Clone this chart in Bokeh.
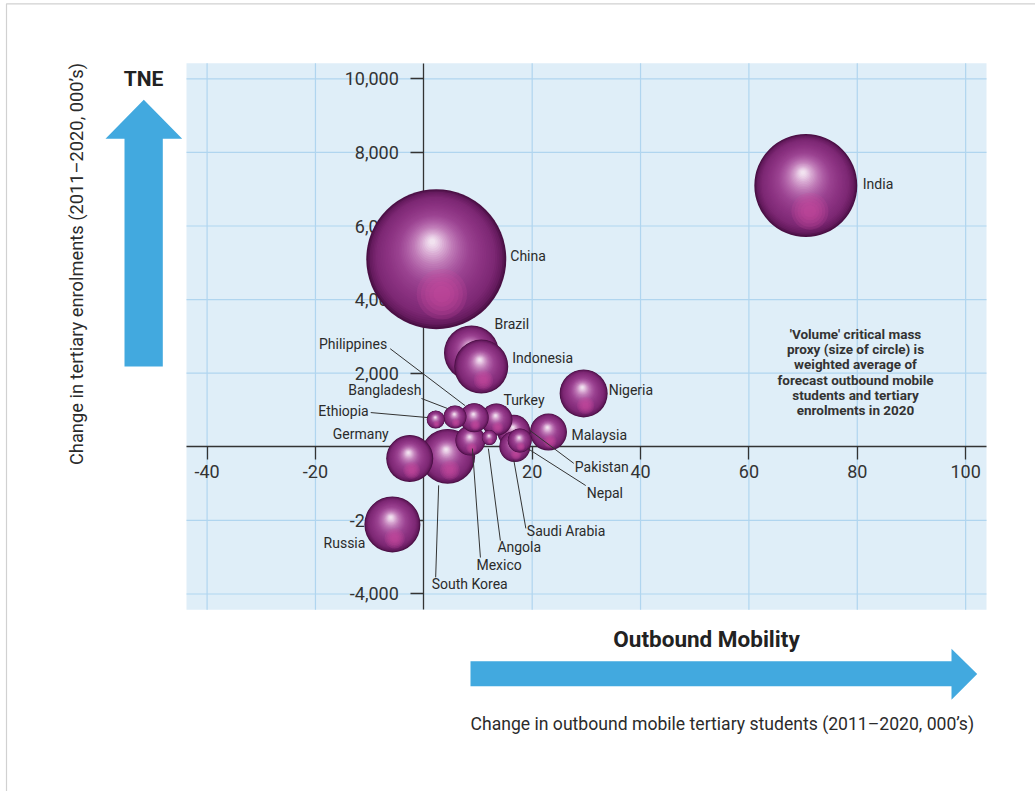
import numpy as np
from bokeh.plotting import figure
from bokeh.models import (ColumnDataSource, FixedTicker, NumeralTickFormatter,
                          Label, PolyAnnotation, Range1d)
from bokeh.core.properties import value
from bokeh.embed import file_html
from bokeh.resources import INLINE

# ---------------- data ----------------
countries = ["China", "India", "Russia", "South Korea", "Brazil", "Indonesia",
             "Nigeria", "Germany", "Malaysia", "Pakistan", "Turkey", "Saudi Arabia",
             "Mexico", "Philippines", "Nepal", "Bangladesh", "Ethiopia", "Angola"]
# change in outbound mobile tertiary students (2011-2020, 000's)
mobility = [2.3, 70.5, -5.8, 4.4, 8.8, 10.6,
            29.5, -2.6, 23.0, 16.6, 13.4, 16.8,
            8.6, 9.3, 17.7, 5.75, 2.2, 12.1]
# change in tertiary enrolments (2011-2020, 000's)
tne = [5100, 7100, -2110, -260, 2550, 2180,
       1450, -320, 400, 420, 740, 10,
       170, 790, 170, 810, 740, 250]
# 'volume' critical mass proxy (size of circle)
volume = [4900, 2650, 784, 756, 756, 729,
          576, 552, 342, 272, 256, 240,
          225, 210, 144, 132, 81, 56]

x_ticks = [-40, -20, 20, 40, 60, 80, 100]
y_ticks = [-4000, -2000, 2000, 4000, 6000, 8000, 10000]

note_lines = ["'Volume' critical mass", "proxy (size of circle) is",
              "weighted average of", "forecast outbound mobile",
              "students and tertiary", "enrolments in 2020"]

# ---------------- layout (label placement, pixels) ----------------
label_pos = {  # dx, dy (screen px from bubble centre), align
    "China": (74, -3, "left"), "India": (57, -2, "left"),
    "Brazil": (23, -29, "left"), "Indonesia": (31, -9, "left"),
    "Nigeria": (25, -3, "left"), "Turkey": (7, -20, "left"),
    "Malaysia": (23, 2.5, "left"), "Pakistan": (61, 36, "left"),
    "Nepal": (67, 52, "left"), "Saudi Arabia": (12, 85, "left"),
    "Angola": (8, 109, "left"), "Mexico": (6, 124, "left"),
    "South Korea": (-16, 128, "left"),
    "Philippines": (-87, -74, "right"), "Bangladesh": (-33.5, -26.5, "right"),
    "Ethiopia": (-67, -9, "right"), "Germany": (-21, -25, "right"),
    "Russia": (-27, 19, "right"),
}
leaders = {  # (x0, y0, x1, y1) screen px offsets from bubble centre
    "Philippines": (-84, -69, -9, -12), "Bangladesh": (-33.5, -18.5, -7.5, -8.5),
    "Ethiopia": (-65, -7, -8, -2), "South Korea": (-12, 121, -9, 29),
    "Mexico": (10, 117, 2, 8), "Angola": (11, 103, -1, 11),
    "Saudi Arabia": (11, 82, -1, 14), "Nepal": (66, 45, 8, 8),
    "Pakistan": (60, 32, 16, -1),
}

# plot area in data units and its place on the canvas (pixels)
X0, X1 = -43.8, 103.85
Y0, Y1 = -4430, 10425
W, H = 1035, 791
AL, AT, AW, AH = 186.0, 62.7, 800.0, 546.6
PX_X = AW / (X1 - X0)
PX_Y = AH / (Y1 - Y0)
XC0 = X0 - AL / PX_X
XC1 = X0 + (W - AL) / PX_X
YC1 = Y1 + AT / PX_Y
YC0 = Y1 - (H - AT) / PX_Y

FONT = "Roboto"
TXT = "#2b2b2b"
BLUE = "#42a9df"

p = figure(width=W, height=H, x_range=Range1d(XC0, XC1), y_range=Range1d(YC0, YC1),
           output_backend="svg", toolbar_location=None, title=None, min_border=0)
p.background_fill_color = "white"
p.border_fill_color = "white"
p.outline_line_color = None
p.grid.visible = False

# plot area and grid
bg = p.quad(left=[X0], right=[X1], bottom=[Y0], top=[Y1], fill_color="#dfeef8",
            line_color=None)
bg.level = "image"
gv = p.segment(x0=x_ticks, x1=x_ticks, y0=[Y0] * len(x_ticks), y1=[Y1] * len(x_ticks),
               line_color="#b0d5ef", line_width=1.2)
gh = p.segment(x0=[X0] * len(y_ticks), x1=[X1] * len(y_ticks), y0=y_ticks, y1=y_ticks,
               line_color="#b0d5ef", line_width=1.2)
gv.level = "image"
gh.level = "image"

# axes through the origin
for ax in (p.xaxis[0], p.yaxis[0]):
    ax.fixed_location = 0
    ax.axis_line_color = "#333333"
    ax.axis_line_width = 1.3
    ax.major_tick_line_color = "#333333"
    ax.major_tick_line_width = 1.3
    ax.major_tick_in = 0
    ax.major_tick_out = 13
    ax.minor_tick_line_color = None
    ax.major_label_text_font = FONT
    ax.major_label_text_font_size = "18px"
    ax.major_label_text_color = "#333333"
    ax.level = "underlay"
p.xaxis[0].ticker = FixedTicker(ticks=x_ticks)
p.yaxis[0].ticker = FixedTicker(ticks=y_ticks)
p.xaxis[0].bounds = (X0, X1)
p.yaxis[0].bounds = (Y0, Y1)
p.xaxis[0].major_label_standoff = 5
p.yaxis[0].major_label_standoff = 12
p.xaxis[0].formatter = NumeralTickFormatter(format="0")
p.yaxis[0].formatter = NumeralTickFormatter(format="0,0")

# ---------------- bubbles (shaded spheres) ----------------
stops_f = [1.00, 0.95, 0.85, 0.68, 0.52, 0.40, 0.28, 0.18, 0.10, 0.03]
stops_c = ["#4a0f44", "#651b5e", "#7d2874", "#8c3382", "#9a4290",
           "#ab5aa2", "#c07cb8", "#d6a5d0", "#e8cce5", "#f3e6f1"]


def hex2rgb(h):
    return np.array([int(h[k:k + 2], 16) for k in (1, 3, 5)], dtype=float)


def shade(f):
    fs = stops_f[::-1]
    cs = [hex2rgb(c) for c in stops_c[::-1]]
    rgb = [np.interp(f, fs, [c[k] for c in cs]) for k in range(3)]
    return "#%02x%02x%02x" % tuple(int(round(v)) for v in rgb)


layers = np.linspace(1.0, 0.04, 40)
glow_d = [0.36, 0.30, 0.24, 0.18, 0.12]

diam = 2.0 * np.sqrt(np.array(volume, dtype=float))
order = sorted(range(len(countries)), key=lambda i: -volume[i])
for i in order:
    cx, cy, d = mobility[i], tne[i], diam[i]
    r = d / 2
    xs, ys, ss, cs, al = [], [], [], [], []
    for f in layers:
        xs.append(cx - 0.06 * (1 - f) * r / PX_X)
        ys.append(cy + 0.26 * (1 - f) * r / PX_Y)
        ss.append(d * f)
        cs.append(shade(f))
        al.append(1.0)
    for g in glow_d:
        xs.append(cx + 0.08 * r / PX_X)
        ys.append(cy - 0.50 * r / PX_Y)
        ss.append(d * g)
        cs.append("#cc4aa2")
        al.append(0.2)
    src = ColumnDataSource(dict(x=xs, y=ys, s=ss, c=cs, a=al))
    p.scatter("x", "y", size="s", fill_color="c", fill_alpha="a", line_color=None,
              marker="circle", source=src)

# ---------------- leader lines and labels ----------------
idx = {c: i for i, c in enumerate(countries)}
seg = dict(x0=[], y0=[], x1=[], y1=[])
for c, (a0, b0, a1, b1) in leaders.items():
    i = idx[c]
    seg["x0"].append(mobility[i] + a0 / PX_X)
    seg["y0"].append(tne[i] - b0 / PX_Y)
    seg["x1"].append(mobility[i] + a1 / PX_X)
    seg["y1"].append(tne[i] - b1 / PX_Y)
p.segment("x0", "y0", "x1", "y1", source=ColumnDataSource(seg),
          line_color="#333333", line_width=1)

for align in ("left", "right"):
    rows = [c for c in countries if label_pos[c][2] == align]
    src = ColumnDataSource(dict(
        x=[mobility[idx[c]] for c in rows], y=[tne[idx[c]] for c in rows],
        t=rows, dx=[label_pos[c][0] for c in rows], dy=[label_pos[c][1] for c in rows]))
    p.text("x", "y", text="t", x_offset="dx", y_offset="dy", source=src,
           text_align=align, text_baseline="middle", text_font=value(FONT),
           text_font_size=value("14px"), text_color=TXT)

# note
for k, line in enumerate(note_lines):
    p.add_layout(Label(x=855, y=333.3 + 15.3 * k, x_units="canvas", y_units="canvas",
                       text=line, text_align="center", text_baseline="middle",
                       text_font=FONT, text_font_style="bold", text_font_size="13.5px",
                       text_color="#333333"))

# ---------------- decorations outside the plot area ----------------
p.add_layout(PolyAnnotation(xs=[143.3, 181.7, 162.3, 162.3, 124, 124, 105],
                            ys=[99.3, 138.3, 138.3, 366, 366, 138.3, 138.3],
                            xs_units="canvas", ys_units="canvas",
                            fill_color=BLUE, fill_alpha=1, line_color=None))
p.add_layout(PolyAnnotation(xs=[470, 951, 951, 976.7, 951, 951, 470],
                            ys=[660.7, 660.7, 648.3, 673.5, 699.3, 685.7, 685.7],
                            xs_units="canvas", ys_units="canvas",
                            fill_color=BLUE, fill_alpha=1, line_color=None))
p.add_layout(PolyAnnotation(xs=[6, 6, 3000, 3000], ys=[3000, 3.3, 3.3, 3000],
                            xs_units="canvas", ys_units="canvas",
                            fill_alpha=0, line_color="#666666", line_width=1.2))

p.add_layout(Label(x=143, y=78, x_units="canvas", y_units="canvas", text="TNE",
                   text_align="center", text_baseline="middle", text_font=FONT,
                   text_font_style="bold", text_font_size="21px", text_color="#222222"))
p.add_layout(Label(x=75.5, y=263.5, x_units="canvas", y_units="canvas",
                   text="Change in tertiary enrolments (2011\u20132020, 000\u2019s)",
                   angle=np.pi / 2, text_align="center", text_baseline="middle",
                   text_font=FONT, text_font_size="18.3px", text_color=TXT))
p.add_layout(Label(x=706, y=638, x_units="canvas", y_units="canvas",
                   text="Outbound Mobility", text_align="center", text_baseline="middle",
                   text_font=FONT, text_font_style="bold", text_font_size="22.5px",
                   text_color="#222222"))
p.add_layout(Label(x=470, y=723, x_units="canvas", y_units="canvas",
                   text="Change in outbound mobile tertiary students (2011\u20132020, 000\u2019s)",
                   text_align="left", text_baseline="middle",
                   text_font=FONT, text_font_size="17.6px", text_color=TXT))

open("out.html", "w").write(file_html(p, INLINE))
